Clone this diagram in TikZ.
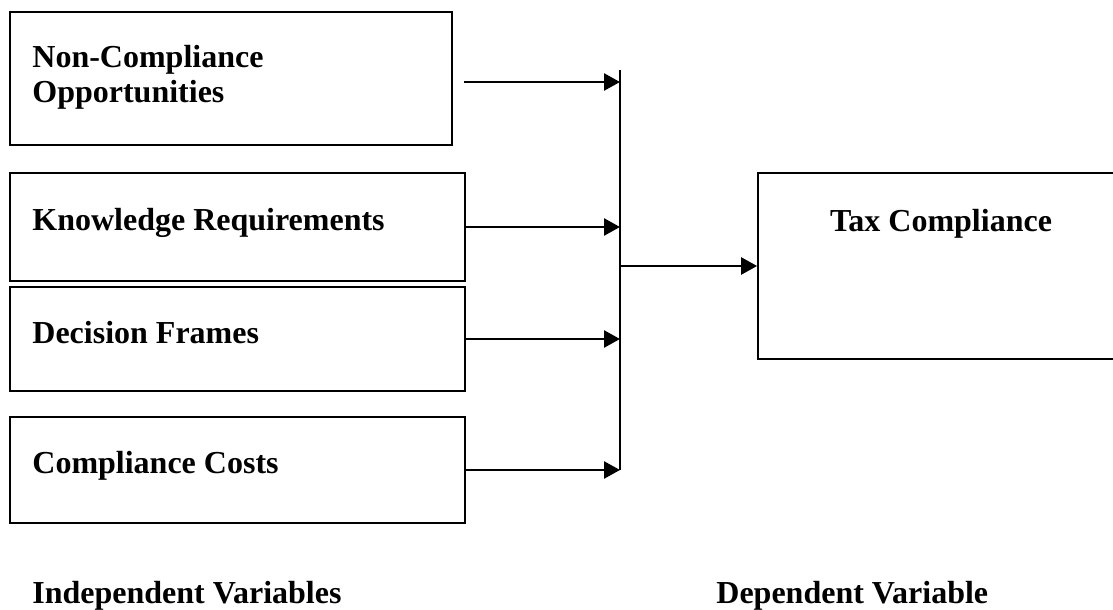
\documentclass[tikz,border=0pt]{standalone}
\usepackage{fontspec}
\setmainfont{Liberation Serif}
\usetikzlibrary{arrows.meta}
\begin{document}
\begin{tikzpicture}[x=0.5pt,y=-0.5pt,
  box/.style={draw, line width=0.9pt, rectangle, inner sep=0pt},
  lbl/.style={anchor=base west, inner sep=0pt, font=\fontsize{16}{18.5}\selectfont\bfseries},
  arr/.style={line width=1.25pt, -{Triangle[length=8pt,width=8.5pt]}}]
\useasboundingbox (0,0) rectangle (1113,610);
\clip (0,0) rectangle (1113,610);
% boxes
\node[box, minimum width=221pt, minimum height=66.5pt] (b1) at (231,78.5) {};
\node[box, minimum width=227.5pt, minimum height=54pt] (b2) at (237.5,227) {};
\node[box, minimum width=227.5pt, minimum height=52pt] (b3) at (237.5,339) {};
\node[box, minimum width=227.5pt, minimum height=53pt] (b4) at (237.5,470) {};
\node[box, minimum width=186pt, minimum height=93pt] (tax) at (944,266) {};
% labels
\node[lbl] (t1a) at (32,68) {Non-Compliance};
\node[lbl] (t1b) at (32,103) {Opportunities};
\node[lbl] (t2) at (32,230) {Knowledge Requirements};
\node[lbl] (t3) at (32,343) {Decision Frames};
\node[lbl] (t4) at (32,473) {Compliance Costs};
\node[lbl, anchor=base] (tt) at (941,231) {Tax Compliance};
\node[lbl] (iv) at (32,603) {Independent Variables};
\node[lbl] (dv) at (716,603) {Dependent Variable};
% connectors
\coordinate (bartop) at (620,70);
\coordinate (barbot) at (620,470);
\coordinate (a1s) at (464,82);
\coordinate (junc) at (620,266);
\draw[line width=1pt] (bartop) -- (barbot);
\draw[arr] (a1s) -- (a1s -| bartop);
\draw[arr] (b2.east) -- (b2.east -| bartop);
\draw[arr] (b3.east) -- (b3.east -| bartop);
\draw[arr] (b4.east) -- (b4.east -| bartop);
\draw[arr] (junc) -- (tax.west);
\end{tikzpicture}
\end{document}
